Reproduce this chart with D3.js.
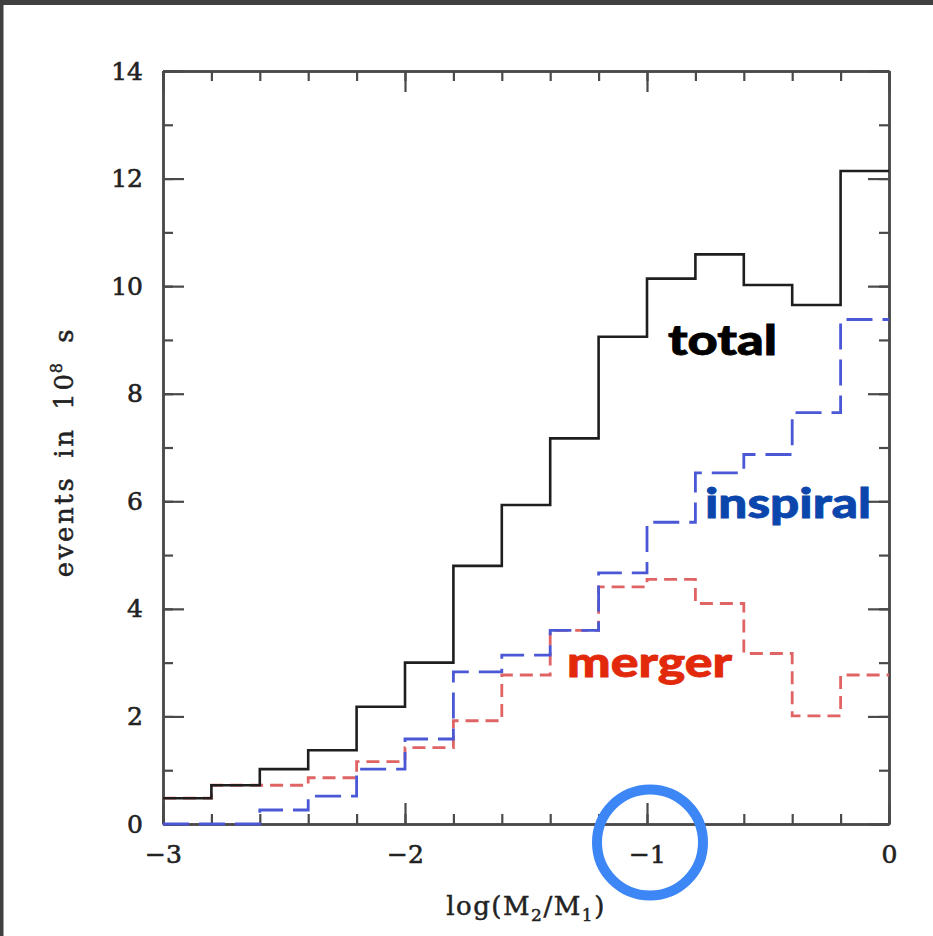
<!DOCTYPE html>
<html><head><meta charset="utf-8">
<script src="https://cdn.jsdelivr.net/npm/d3@7"></script>
<style>html,body{margin:0;padding:0;background:#fff;} svg{display:block;}</style>
</head><body><svg id="c" width="933" height="936"></svg>
<script>
// ---- data ----
const binEdges = [-3.0,-2.8,-2.6,-2.4,-2.2,-2.0,-1.8,-1.6,-1.4,-1.2,-1.0,-0.8,-0.6,-0.4,-0.2,0.0];
const totalEvents    = [0.48,0.72,1.02,1.37,2.18,3.00,4.80,5.93,7.17,9.06,10.14,10.59,10.02,9.65,12.14];
const inspiralEvents = [0.00,0.00,0.26,0.52,1.02,1.58,2.83,3.14,3.60,4.67,5.61,6.53,6.87,7.65,9.38];
const mergerEvents   = [0.48,0.72,0.72,0.86,1.16,1.42,1.92,2.77,3.60,4.41,4.55,4.10,3.17,2.01,2.77];
const seriesNames = ["total","inspiral","merger"];
const xMajorTicks = [-3,-2,-1,0];
const xTickLabels = ["\u22123","\u22122","\u22121","0"];
const xMinorTicks = [-3.0,-2.8,-2.6,-2.4,-2.2,-2.0,-1.8,-1.6,-1.4,-1.2,-1.0,-0.8,-0.6,-0.4,-0.2,0.0];
const yMajorTicks = [0,2,4,6,8,10,12,14];
const yTickLabels = ["0","2","4","6","8","10","12","14"];
const yMinorTicks = [0,1,2,3,4,5,6,7,8,9,10,11,12,13,14];
const xAxisTitle = "log(M";
const yAxisTitle = "events in 10";

// ---- layout ----
const W = 933, H = 936;
const L = 163, R = 889, T = 71, B = 824;
const svg = d3.select("#c");
svg.append("rect").attr("width",W).attr("height",H).attr("fill","#fff");

const x = d3.scaleLinear().domain([-3,0]).range([L,R]);
const y = d3.scaleLinear().domain([0,14]).range([B,T]);

const axisColor = "#4a4a4a";
const tickFont = "'DejaVu Serif', serif";

function styleAxis(g){
  g.selectAll(".domain").attr("stroke",axisColor).attr("stroke-width",2.5);
  g.selectAll(".tick line").attr("stroke",axisColor).attr("stroke-width",2.2);
  g.selectAll("text").attr("font-family",tickFont).attr("font-size",25).attr("fill","#222")
    .attr("stroke","#222").attr("stroke-width",0.6);
}

// minor ticks
const minorLen = -10, majorLen = -21;
svg.append("g").attr("transform",`translate(0,${B})`)
  .call(d3.axisBottom(x).tickValues(xMinorTicks).tickSize(minorLen).tickSizeOuter(0).tickFormat(""))
  .call(styleAxis);
svg.append("g").attr("transform",`translate(0,${T})`)
  .call(d3.axisTop(x).tickValues(xMinorTicks).tickSize(minorLen).tickSizeOuter(0).tickFormat(""))
  .call(styleAxis);
svg.append("g").attr("transform",`translate(${L},0)`)
  .call(d3.axisLeft(y).tickValues(yMinorTicks).tickSize(minorLen).tickSizeOuter(0).tickFormat(""))
  .call(styleAxis);
svg.append("g").attr("transform",`translate(${R},0)`)
  .call(d3.axisRight(y).tickValues(yMinorTicks).tickSize(minorLen).tickSizeOuter(0).tickFormat(""))
  .call(styleAxis);

// major ticks with labels
svg.append("g").attr("transform",`translate(0,${B})`)
  .call(d3.axisBottom(x).tickValues(xMajorTicks).tickSize(majorLen).tickSizeOuter(0).tickPadding(21)
        .tickFormat((d,i)=>xTickLabels[i]))
  .call(styleAxis);
svg.append("g").attr("transform",`translate(0,${T})`)
  .call(d3.axisTop(x).tickValues(xMajorTicks).tickSize(majorLen).tickSizeOuter(0).tickFormat(""))
  .call(styleAxis);
svg.append("g").attr("transform",`translate(${L},0)`)
  .call(d3.axisLeft(y).tickValues(yMajorTicks).tickSize(majorLen).tickSizeOuter(0).tickPadding(20)
        .tickFormat((d,i)=>yTickLabels[i]))
  .call(styleAxis);
svg.append("g").attr("transform",`translate(${R},0)`)
  .call(d3.axisRight(y).tickValues(yMajorTicks).tickSize(majorLen).tickSizeOuter(0).tickFormat(""))
  .call(styleAxis);

// ---- histograms ----
function stepPoints(vals){
  const pts = vals.map((v,i)=>[binEdges[i], v]);
  pts.push([binEdges[binEdges.length-1], vals[vals.length-1]]);
  return pts;
}
const line = d3.line().x(d=>x(d[0])).y(d=>y(d[1])).curve(d3.curveStepAfter);

svg.append("path").datum(stepPoints(mergerEvents))
  .attr("d",line).attr("fill","none").attr("stroke","#e06464").attr("stroke-width",2.8)
  .attr("stroke-dasharray","13,7");
svg.append("path").datum(stepPoints(inspiralEvents))
  .attr("d",line).attr("fill","none").attr("stroke","#4a58d6").attr("stroke-width",2.8)
  .attr("stroke-dasharray","26,10");
svg.append("path").datum(stepPoints(totalEvents))
  .attr("d",line).attr("fill","none").attr("stroke","#1e1e1e").attr("stroke-width",2.6);

// ---- series annotations ----
const annoFont = "Lato, 'Open Sans', sans-serif";
const annos = [
  {name: seriesNames[0], x: 668, y: 355, len: 109, color: "#000000"},
  {name: seriesNames[1], x: 705, y: 518, len: 166, color: "#0a46ac"},
  {name: seriesNames[2], x: 567, y: 677, len: 165, color: "#e2290c"}
];
svg.selectAll("text.anno").data(annos).enter().append("text")
  .attr("class","anno")
  .attr("x",d=>d.x).attr("y",d=>d.y)
  .attr("font-family",annoFont).attr("font-weight",900).attr("font-size",42)
  .attr("textLength",d=>d.len).attr("lengthAdjust","spacingAndGlyphs")
  .attr("fill",d=>d.color).attr("stroke",d=>d.color).attr("stroke-width",0.8)
  .text(d=>d.name);

// ---- axis titles ----
const xt = svg.append("text").attr("x",(L+R)/2).attr("y",915)
  .attr("text-anchor","middle").attr("font-family",tickFont).attr("font-size",26).attr("fill","#222")
  .attr("stroke","#222").attr("stroke-width",0.5).attr("letter-spacing",1.5);
xt.append("tspan").text(xAxisTitle);
xt.append("tspan").attr("font-size",17).attr("dy",6).text("2");
xt.append("tspan").attr("dy",-6).text("/M");
xt.append("tspan").attr("font-size",17).attr("dy",6).text("1");
xt.append("tspan").attr("dy",-6).text(")");

const yt = svg.append("text").attr("transform","translate(73,452) rotate(-90)")
  .attr("text-anchor","middle").attr("font-family",tickFont).attr("font-size",26).attr("fill","#222")
  .attr("stroke","#222").attr("stroke-width",0.5).attr("letter-spacing",2.6).attr("word-spacing",7);
yt.append("tspan").text(yAxisTitle);
yt.append("tspan").attr("font-size",16).attr("dy",-11).attr("dx",-2).text("8");
yt.append("tspan").attr("dy",11).text(" s");

// ---- highlight circle ----
svg.append("circle").attr("cx",x(-1)+3).attr("cy",842.5).attr("r",53)
  .attr("fill","none").attr("stroke","#3d86f5").attr("stroke-width",10);

// ---- frame ----
svg.append("rect").attr("x",0).attr("y",0).attr("width",W).attr("height",5).attr("fill","#404040");
svg.append("rect").attr("x",0).attr("y",0).attr("width",3.5).attr("height",H).attr("fill","#404040");
</script>
</body></html>
